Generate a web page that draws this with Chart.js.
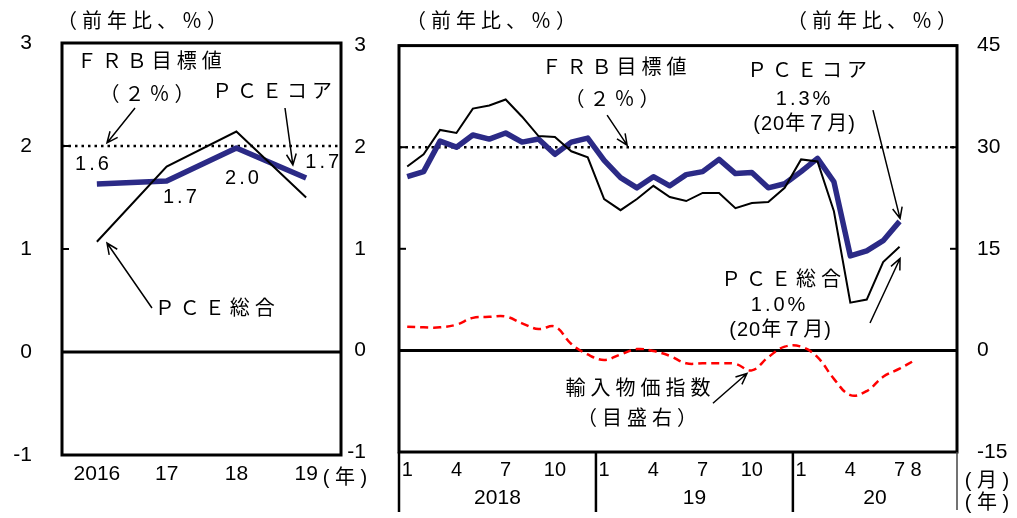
<!DOCTYPE html>
<html>
<head>
<meta charset="utf-8">
<script src="https://cdn.jsdelivr.net/npm/chart.js@4"></script>
<style>
  body { margin: 0; background: #fff; width: 1017px; height: 518px; overflow: hidden; position: relative; }
  #wrapA { position: absolute; left: 0; top: 0; width: 400px; height: 518px; }
  #wrapB { position: absolute; left: 345px; top: 0; width: 672px; height: 518px; }
</style>
</head>
<body>
<div id="wrapA"><canvas id="annual"></canvas></div>
<div id="wrapB"><canvas id="monthly"></canvas></div>
<script>
// annual panel
const years = ['2016', '17', '18', '19'];
const coreAnnual = [1.63, 1.66, 1.98, 1.69];
const totalAnnual = [1.07, 1.80, 2.14, 1.50];

// monthly panel, Jan 2018 - Oct 2020 on the axis
const monthLabels = ['1', '', '', '4', '', '', '7', '', '', '10', '', '',
                     '1', '', '', '4', '', '', '7', '', '', '10', '', '',
                     '1', '', '', '4', '', '', '7', '8', '', ''];
const yearLabels = ['2018', '19', '20'];
const coreMonthly = [1.71, 1.76, 2.06, 2.00, 2.12, 2.08, 2.14, 2.05, 2.08, 1.93, 2.05, 2.09,
                     1.87, 1.70, 1.60, 1.71, 1.62, 1.73, 1.76, 1.88, 1.74, 1.75, 1.60, 1.64,
                     1.76, 1.89, 1.66, 0.93, 0.98, 1.08, 1.27];
const totalMonthly = [1.81, 1.93, 2.17, 2.14, 2.38, 2.41, 2.47, 2.30, 2.11, 2.10, 1.96, 1.90,
                      1.49, 1.38, 1.49, 1.62, 1.51, 1.47, 1.55, 1.55, 1.40, 1.45, 1.46, 1.60,
                      1.88, 1.86, 1.37, 0.47, 0.50, 0.87, 1.02];
const importMonthly = [3.5, 3.4, 3.4, 3.8, 4.8, 4.95, 5.0, 4.0, 3.15, 3.5, 0.95, -0.6,
                       -1.4, -0.6, 0.2, -0.1, -0.8, -1.9, -1.9, -1.9, -2.0, -2.95, -1.0, 0.55,
                       0.55, -1.0, -4.2, -6.6, -6.0, -3.9, -2.7, -1.35];
const FRB_TARGET = 2;

const NAVY = '#2b2a86';
const FONT = '"Liberation Sans", "Noto Sans CJK JP", sans-serif';
Chart.defaults.color = '#000';
Chart.defaults.font.family = FONT;
Chart.defaults.font.size = 21;

function drawText(ctx, t, x, y, size, ls) {
  ctx.font = size + 'px ' + FONT;
  ctx.letterSpacing = ls + 'px';
  ctx.textAlign = 'center';
  ctx.textBaseline = 'middle';
  ctx.fillStyle = '#000';
  ctx.fillText(t, x + ls / 2, y);
  ctx.letterSpacing = '0px';
}

function arrow(ctx, x1, y1, x2, y2) {
  const a = Math.atan2(y2 - y1, x2 - x1), h = 12;
  ctx.lineWidth = 1.5;
  ctx.beginPath();
  ctx.moveTo(x1, y1); ctx.lineTo(x2, y2);
  ctx.moveTo(x2 - h * Math.cos(a - 0.42), y2 - h * Math.sin(a - 0.42));
  ctx.lineTo(x2, y2);
  ctx.lineTo(x2 - h * Math.cos(a + 0.42), y2 - h * Math.sin(a + 0.42));
  ctx.stroke();
}

// frame, 0 line, target line, inward ticks, notes and arrows
function makeDecor(cfg) {
  return {
    id: 'decor',
    beforeDatasetsDraw(chart) {
      const { ctx, chartArea: a } = chart, y = chart.scales.y;
      ctx.save();
      ctx.strokeStyle = '#000';
      const y0 = y.getPixelForValue(0);
      ctx.lineWidth = 3;
      ctx.beginPath(); ctx.moveTo(a.left, y0); ctx.lineTo(a.right, y0); ctx.stroke();
      const y2 = y.getPixelForValue(FRB_TARGET);
      ctx.lineWidth = 2.5;
      ctx.setLineDash([2.5, 4]);
      ctx.beginPath(); ctx.moveTo(a.left, y2); ctx.lineTo(a.right, y2); ctx.stroke();
      ctx.restore();
    },
    afterDraw(chart) {
      const { ctx, chartArea: a, scales } = chart;
      const X = v => scales.x.getPixelForValue(v), Y = v => scales.y.getPixelForValue(v);
      ctx.save();
      ctx.strokeStyle = '#000';
      ctx.lineWidth = 3;
      ctx.strokeRect(a.left, a.top, a.right - a.left, a.bottom - a.top);
      ctx.lineWidth = 2;
      cfg.inTicks.forEach(([id, side]) => {
        const s = scales[id];
        const x0 = side === 'left' ? a.left : a.right, dx = side === 'left' ? 7 : -7;
        s.ticks.forEach(t => {
          const py = s.getPixelForValue(t.value);
          ctx.beginPath(); ctx.moveTo(x0, py); ctx.lineTo(x0 + dx, py); ctx.stroke();
        });
      });
      cfg.notes.forEach(n => drawText(ctx, n[0], X(n[1]), Y(n[2]), 20, n[3] === undefined ? 5 : n[3]));
      cfg.fixed.forEach(n => drawText(ctx, n[0], n[1], n[2], 20, n[3] === undefined ? 5 : n[3]));
      ctx.strokeStyle = '#000';
      cfg.arrows.forEach(r => arrow(ctx, X(r[0]), Y(r[1]), X(r[2]), Y(r[3])));
      if (cfg.extra) cfg.extra(chart);
      ctx.restore();
    }
  };
}

const annualDecor = makeDecor({
  inTicks: [['y', 'left']],
  notes: [
    ['ＦＲＢ目標値', 0.75, 2.806],
    ['（２％）', 0.72, 2.495],
    ['ＰＣＥコア', 2.51, 2.524],
    ['1.6', -0.07, 1.82, 3],
    ['1.7', 1.19, 1.50, 3],
    ['2.0', 2.08, 1.684, 3],
    ['1.7', 3.23, 1.84, 3],
    ['ＰＣＥ総合', 1.69, 0.408]
  ],
  fixed: [
    ['（前年比、％）', 142, 22],
    ['( 年 )', 345, 478, 0]
  ],
  arrows: [
    [0.547, 2.369, 0.145, 2.03],
    [2.697, 2.369, 2.81, 1.816],
    [0.79, 0.427, 0.145, 1.058]
  ]
});

new Chart(document.getElementById('annual'), {
  type: 'line',
  data: {
    labels: years,
    datasets: [
      { label: 'PCE総合', data: totalAnnual, borderColor: '#000', borderWidth: 2, pointRadius: 0, tension: 0 },
      { label: 'PCEコア', data: coreAnnual, borderColor: NAVY, borderWidth: 5.5, pointRadius: 0, tension: 0, borderJoinStyle: 'round' }
    ]
  },
  options: {
    responsive: true, maintainAspectRatio: false, animation: false,
    layout: { padding: { top: 43, right: 59, left: 0, bottom: 0 } },
    plugins: { legend: { display: false }, tooltip: { enabled: false } },
    scales: {
      x: {
        offset: true,
        grid: { display: false, drawTicks: false }, border: { display: false },
        ticks: { padding: 7, maxRotation: 0, font: { size: 21 } },
        afterFit(s) { s.height = 63; }
      },
      y: {
        min: -1, max: 3,
        grid: { display: false, drawTicks: false }, border: { display: false },
        ticks: { stepSize: 1, padding: 30, font: { size: 21 } },
        afterFit(s) { s.width = 62; }
      }
    }
  },
  plugins: [annualDecor]
});

const monthlyDecor = makeDecor({
  inTicks: [['y', 'left'], ['y1', 'right']],
  notes: [
    ['ＦＲＢ目標値', 12.6, 2.77],
    ['（２％）', 12.48, 2.46],
    ['ＰＣＥコア', 24.36, 2.746],
    ['1.3%', 24.12, 2.472, 3],
    ['(20年７月)', 24.18, 2.227, 1],
    ['ＰＣＥ総合', 22.78, 0.692],
    ['1.0%', 22.6, 0.438, 3],
    ['(20年７月)', 22.72, 0.194, 1],
    ['輸入物価指数', 14.06, -0.384],
    ['（目盛右）', 14.0, -0.677]
  ],
  fixed: [
    ['（前年比、％）', 146, 22],
    ['（前年比、％）', 527, 22],
    ['( 月 )', 642, 481, 0],
    ['( 年 )', 642, 503, 0]
  ],
  arrows: [
    [12.18, 2.315, 13.4, 2.02],
    [28.38, 2.365, 30.03, 1.299],
    [28.2, 0.27, 30.03, 0.905],
    [18.63, -0.52, 20.7, -0.227]
  ],
  extra(chart) {
    const { ctx, chartArea: a, scales } = chart, x = scales.x;
    const sep1 = (x.getPixelForValue(11) + x.getPixelForValue(12)) / 2;
    const sep2 = (x.getPixelForValue(23) + x.getPixelForValue(24)) / 2;
    ctx.strokeStyle = '#000';
    ctx.lineWidth = 2.5;
    [a.left, sep1, sep2].forEach(px => {
      ctx.beginPath(); ctx.moveTo(px, a.bottom); ctx.lineTo(px, 512); ctx.stroke();
    });
    ctx.lineWidth = 1.5;
    ctx.strokeStyle = '#444';
    ctx.beginPath(); ctx.moveTo(a.right, a.bottom); ctx.lineTo(a.right, 510); ctx.stroke();
    const edges = [a.left, sep1, sep2, a.right];
    yearLabels.forEach((t, i) => drawText(ctx, t, (edges[i] + edges[i + 1]) / 2, 498, 21, 0));
  }
});

new Chart(document.getElementById('monthly'), {
  type: 'line',
  data: {
    labels: monthLabels,
    datasets: [
      { label: '輸入物価指数', data: importMonthly, yAxisID: 'y1', borderColor: '#ff0000', borderWidth: 2.5,
        borderDash: [8, 5], pointRadius: 0, tension: 0.4 },
      { label: 'PCE総合', data: totalMonthly, yAxisID: 'y', borderColor: '#000', borderWidth: 2, pointRadius: 0, tension: 0 },
      { label: 'PCEコア', data: coreMonthly, yAxisID: 'y', borderColor: NAVY, borderWidth: 5.5, pointRadius: 0,
        tension: 0, borderJoinStyle: 'round' }
    ]
  },
  options: {
    responsive: true, maintainAspectRatio: false, animation: false,
    layout: { padding: { top: 43, right: 0, left: 0, bottom: 0 } },
    plugins: { legend: { display: false }, tooltip: { enabled: false } },
    scales: {
      x: {
        offset: true,
        grid: { display: false, drawTicks: false }, border: { display: false },
        ticks: { autoSkip: false, maxRotation: 0, padding: 6, font: { size: 20 },
                 callback: (v, i) => monthLabels[i] },
        afterFit(s) { s.height = 66; }
      },
      y: {
        position: 'left', min: -1, max: 3,
        grid: { display: false, drawTicks: false }, border: { display: false },
        ticks: { stepSize: 1, padding: 33, font: { size: 21 } },
        afterFit(s) { s.width = 54; }
      },
      y1: {
        position: 'right', min: -15, max: 45,
        grid: { display: false, drawTicks: false }, border: { display: false },
        ticks: { stepSize: 15, padding: 20, font: { size: 21 } },
        afterFit(s) { s.width = 60; }
      }
    }
  },
  plugins: [monthlyDecor]
});
</script>
</body>
</html>
